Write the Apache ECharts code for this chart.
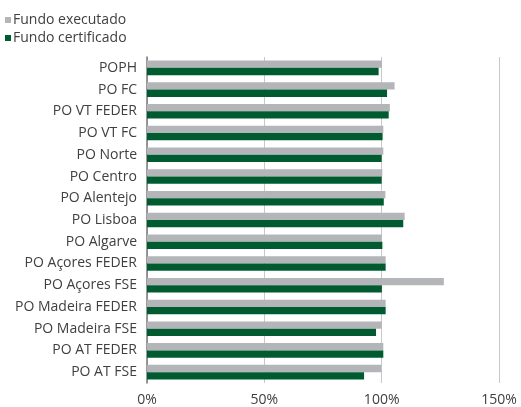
<!DOCTYPE html>
<html>
<head>
<meta charset="utf-8">
<script src="https://cdn.jsdelivr.net/npm/echarts@6/dist/echarts.min.js"></script>
<style>
  html, body { margin: 0; padding: 0; background: #fff; }
  #chart { width: 521px; height: 407px; }
</style>
</head>
<body>
<div id="chart"></div>
<script>
const categories = ['POPH', 'PO FC', 'PO VT FEDER', 'PO VT FC', 'PO Norte', 'PO Centro', 'PO Alentejo',
  'PO Lisboa', 'PO Algarve', 'PO Açores FEDER', 'PO Açores FSE', 'PO Madeira FEDER', 'PO Madeira FSE',
  'PO AT FEDER', 'PO AT FSE'];
const executado = [100.1, 105.5, 103.5, 100.7, 100.7, 100.3, 101.6, 109.8, 100, 101.7, 126.5, 101.7, 100, 100.7, 99.9];
const certificado = [98.7, 102.3, 103, 100.4, 100, 100, 100.9, 109.2, 100.3, 101.7, 100.1, 101.7, 97.6, 100.7, 92.5];
const xTicks = [0, 50, 100, 150];

const chart = echarts.init(document.getElementById('chart'));
const font = '"Open Sans", sans-serif';
chart.setOption({
  animation: false,
  textStyle: { fontFamily: font },
  legend: {
    orient: 'vertical',
    left: 0,
    top: 8,
    itemGap: 4,
    itemWidth: 6,
    itemHeight: 6,
    icon: 'rect',
    textStyle: { fontSize: 14, color: '#404040', fontFamily: font, padding: [0, 0, 0, -3] },
    data: ['Fundo executado', 'Fundo certificado']
  },
  grid: { left: 147, right: 22, top: 57, bottom: 21 },
  xAxis: {
    type: 'value',
    min: xTicks[0],
    max: xTicks[xTicks.length - 1],
    interval: 50,
    axisLine: { show: false },
    axisTick: { show: false },
    axisLabel: { formatter: '{value}%', fontSize: 14, color: '#404040', margin: 10 },
    splitLine: { lineStyle: { color: '#c8c8c8', width: 1 } }
  },
  yAxis: {
    type: 'category',
    inverse: true,
    data: categories,
    axisLine: { show: true, lineStyle: { color: '#7a7a7a', width: 1.5 } },
    axisTick: { show: false },
    axisLabel: { fontSize: 14, color: '#404040', margin: 10 }
  },
  series: [
    {
      name: 'Fundo executado', type: 'bar', data: executado,
      itemStyle: { color: '#b3b5b8' }, barGap: '0%', barCategoryGap: '33%'
    },
    {
      name: 'Fundo certificado', type: 'bar', data: certificado,
      itemStyle: { color: '#005c30' }, barGap: '0%', barCategoryGap: '33%'
    }
  ]
});
</script>
</body>
</html>
